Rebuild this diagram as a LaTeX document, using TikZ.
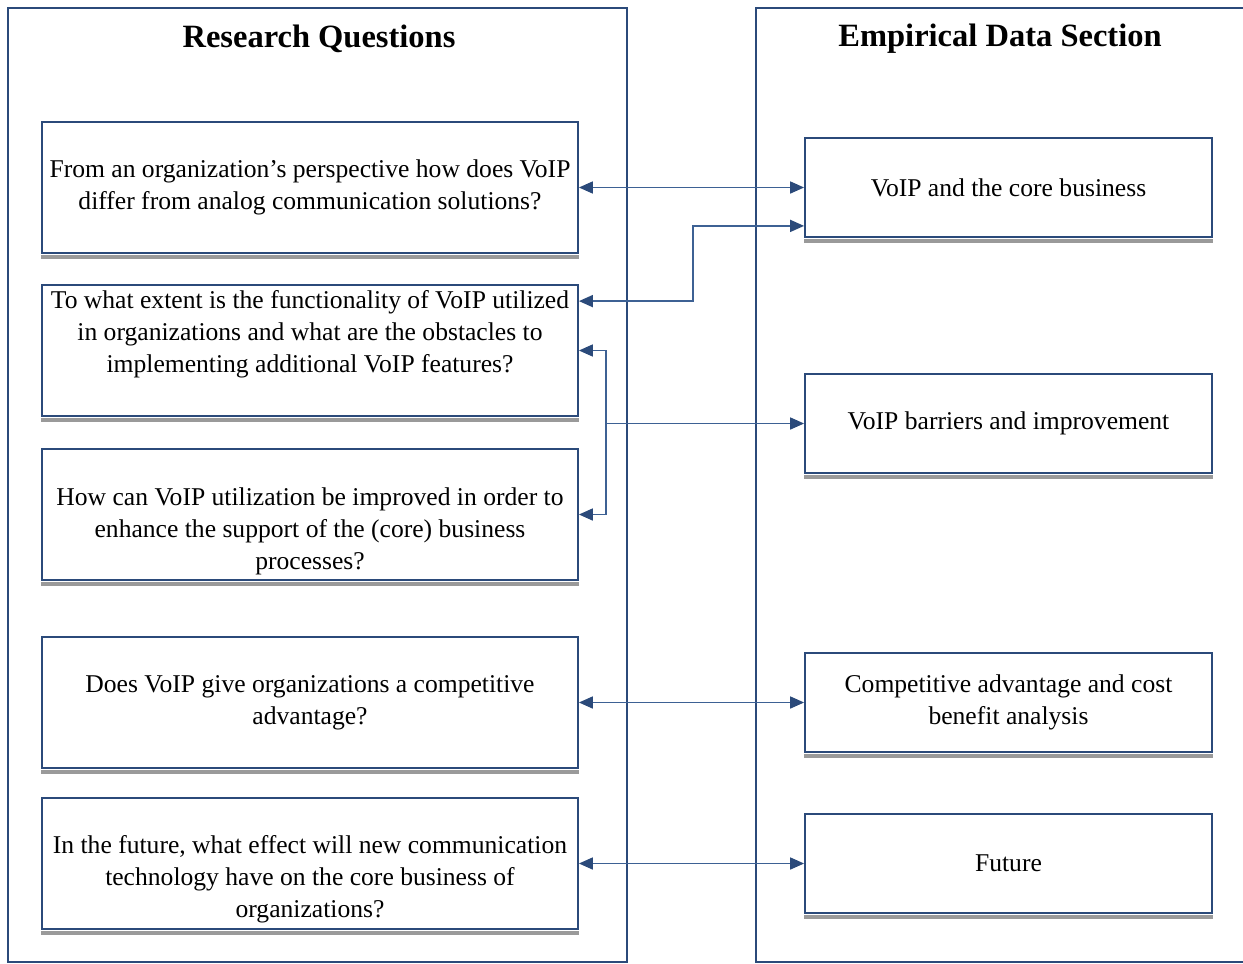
\documentclass[tikz,border=0pt]{standalone}
\usepackage{fontspec}
\setmainfont{Liberation Serif}
\usetikzlibrary{arrows.meta,calc}
\definecolor{frameblue}{HTML}{2B4A7A}
\definecolor{linkblue}{HTML}{3D6194}
\definecolor{shadegray}{HTML}{9A9A9A}
\begin{document}
\begin{tikzpicture}[x=1pt,y=-1pt,
  panel/.style={draw=frameblue,line width=1.8pt},
  box/.style={draw=frameblue,line width=1.8pt,fill=white,inner sep=0pt},
  qbox/.style={box,minimum width=536pt,minimum height=131pt},
  ebox/.style={box,minimum width=407pt,minimum height=99pt},
  txt/.style={align=center,inner sep=0pt,font=\fontsize{25.6}{32}\selectfont},
  title/.style={inner sep=0pt,font=\fontsize{32.5}{38}\selectfont\bfseries},
  tip/.style={Triangle[length=14pt,width=12pt,color=frameblue]},
  link/.style={draw=linkblue,line width=1.7pt,arrows={-Triangle[length=14pt,width=12pt,color=frameblue]}},
  bilink/.style={draw=linkblue,line width=1.7pt,
    arrows={Triangle[length=14pt,width=12pt,color=frameblue]-Triangle[length=14pt,width=12pt,color=frameblue]}},
  shade/.style={fill=shadegray}]
\useasboundingbox[fill=white] (0,0) rectangle (1243,964);

% the two column frames
\draw[panel] (8,8) rectangle (627,962);
\draw[panel] (1243,8) -- (756,8) -- (756,962) -- (1243,962);
\node[title] (h1) at (319,39) {Research Questions};
\node[title] (h2) at (1000,39) {Empirical Data Section};

% research question boxes
\node[qbox] (q1) at (310,187.5) {};
\node[qbox] (q2) at (310,350.5) {};
\node[qbox] (q3) at (310,514.5) {};
\node[qbox] (q4) at (310,702.5) {};
\node[qbox] (q5) at (310,863.5) {};
% empirical data boxes
\node[ebox] (e1) at (1008.5,187.5) {};
\node[ebox] (e2) at (1008.5,423.5) {};
\node[ebox] (e3) at (1008.5,702.5) {};
\node[ebox] (e4) at (1008.5,863.5) {};

% grey ledge under every box
\foreach \n in {q1,q2,q3,q4,q5,e1,e2,e3,e4}
  \fill[shade] ($(\n.south west)+(0,1)$) rectangle ($(\n.south east)+(0,5)$);

% box texts
\node[txt] (t1) at (q1) {From an organization’s perspective how does VoIP\\differ from analog communication solutions?};
\node[txt] (t2) at (310,334) {To what extent is the functionality of VoIP utilized\\in organizations and what are the obstacles to\\implementing additional VoIP features?};
\node[txt] (t3) at (310,531) {How can VoIP utilization be improved in order to\\enhance the support of the (core) business\\processes?};
\node[txt] (t4) at (q4) {Does VoIP give organizations a competitive\\advantage?};
\node[txt] (t5) at (310,879) {In the future, what effect will new communication\\technology have on the core business of\\organizations?};
\node[txt] (s1) at (e1) {VoIP and the core business};
\node[txt] (s2) at (e2) {VoIP barriers and improvement};
\node[txt] (s3) at (e3) {Competitive advantage and cost\\benefit analysis};
\node[txt] (s4) at (e4) {Future};

% connectors
\draw[bilink] (q1.east) -- (e1.west);
\coordinate (c2a) at ($(e1.south west)+(0,-12)$);
\coordinate (c2b) at ($(q2.north east)+(0,17)$);
\coordinate (bend) at (693,0);
\draw[bilink] (c2a) -| (bend |- c2b) -- (c2b);

\coordinate (j) at (606,423.5);
\coordinate (c3a) at (q2.east);
\coordinate (c3b) at (q3.east);
\draw[link] (j) -- (e2.west);
\draw[link] (j) |- (c3a);
\draw[link] (j) |- (c3b);

\draw[bilink] (q4.east) -- (e3.west);
\draw[bilink] (q5.east) -- (e4.west);
\end{tikzpicture}
\end{document}
